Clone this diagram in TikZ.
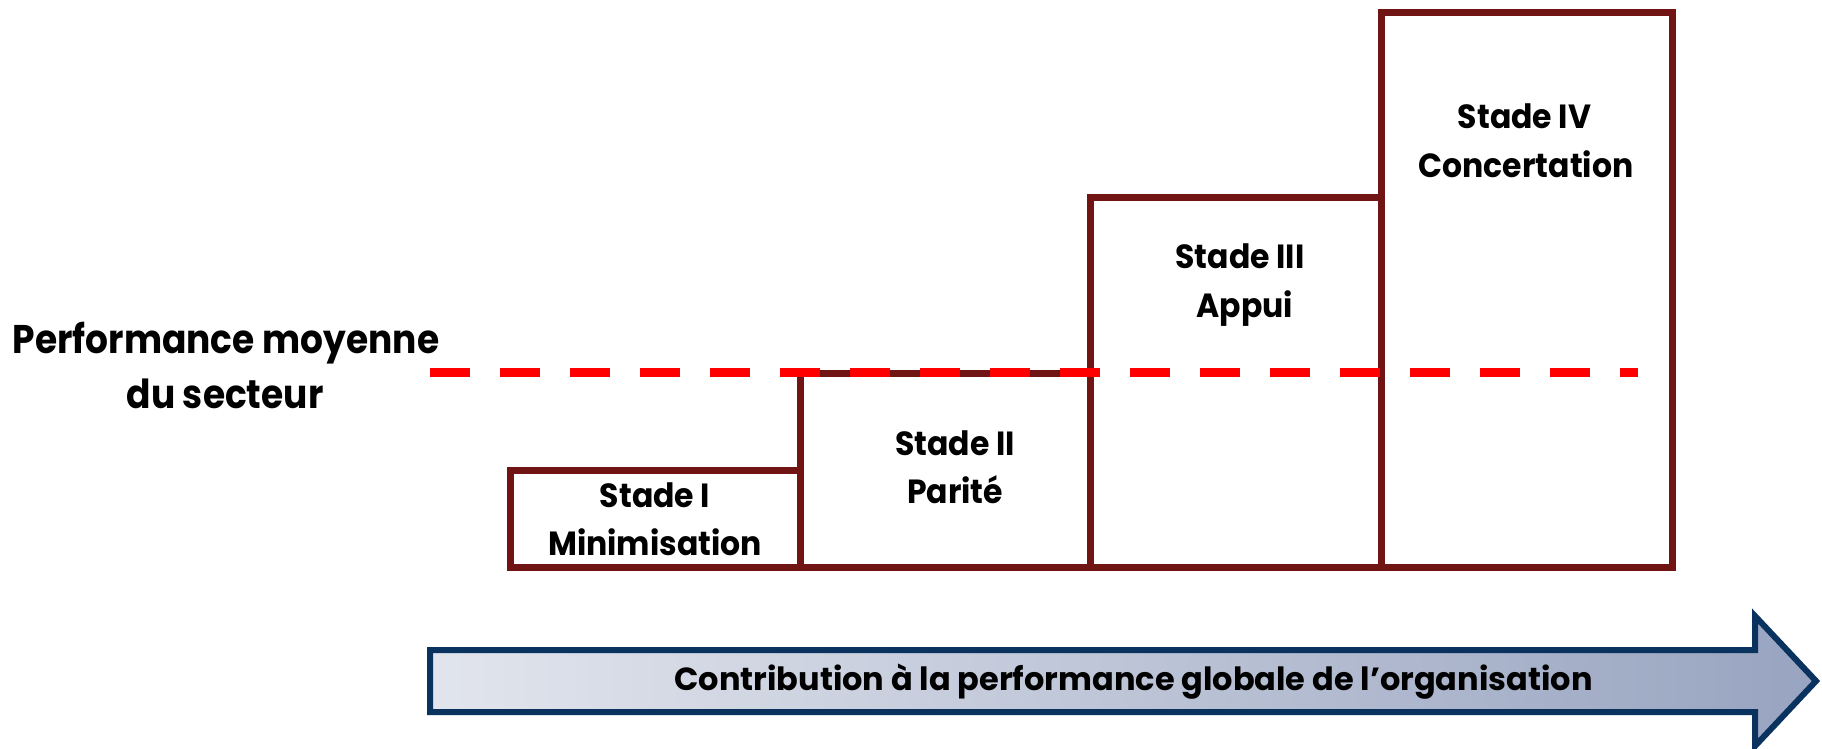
\documentclass[tikz,border=0pt]{standalone}
\usepackage{fontspec}
\setmainfont{Poppins}
\newfontfamily\stagefont{Poppins}[FakeStretch=0.94]
\newfontfamily\avgfont{Poppins}[FakeStretch=0.9]
\definecolor{stageline}{RGB}{112,20,20}
\definecolor{avgred}{RGB}{255,0,0}
\definecolor{arrowline}{RGB}{10,50,95}
\definecolor{arrowlight}{RGB}{226,229,237}
\definecolor{arrowdark}{RGB}{152,164,192}
\tikzset{
  stagebox/.style={draw=stageline, line width=7pt, inner sep=0pt, rectangle},
  stagetext/.style={font=\stagefont\fontsize{33.5}{40}\selectfont\bfseries, anchor=base, inner sep=0pt},
  avgtext/.style={font=\avgfont\fontsize{40}{48}\selectfont\bfseries, anchor=base, inner sep=0pt},
  arrowtext/.style={font=\fontsize{32}{38}\selectfont\bfseries, anchor=base, inner sep=0pt},
  avgline/.style={draw=avgred, line width=9pt, dash pattern=on 40pt off 30pt},
  bigarrow/.style={draw=arrowline, line width=6pt, left color=arrowlight, right color=arrowdark}
}
\begin{document}
\begin{tikzpicture}[x=1pt,y=-1pt]
\useasboundingbox (0,0) rectangle (1822,748);

% the four stages, as rising steps
\node[stagebox, minimum width=290pt, minimum height=97pt]  (s1) at (655,518.5) {};
\node[stagebox, minimum width=290pt, minimum height=194pt] (s2) at (945,470) {};
\node[stagebox, minimum width=291pt, minimum height=370pt] (s3) at (1235.5,382) {};
\node[stagebox, minimum width=291pt, minimum height=555pt] (s4) at (1526.5,289.5) {};

\node[stagetext] (s1a) at (655,507) {Stade I};
\node[stagetext] (s1b) at (655,555) {Minimisation};
\node[stagetext] (s2a) at (955,455) {Stade II};
\node[stagetext] (s2b) at (955,503) {Parité};
\node[stagetext] (s3a) at (1240,268) {Stade III};
\node[stagetext] (s3b) at (1245,317) {Appui};
\node[stagetext] (s4a) at (1524.5,128) {Stade IV};
\node[stagetext] (s4b) at (1526,177) {Concertation};

% sector average
\node[avgtext] (avg1) at (226,353) {Performance moyenne};
\node[avgtext] (avg2) at (225,408) {du secteur};
\coordinate (avgL) at (430,372);
\coordinate (avgR) at (1638,372);
\draw[avgline] (avgL) -- (avgR);

% contribution arrow
\path[bigarrow] (430,650) -- (1755,650) -- (1755,616) -- (1816,681)
  -- (1755,746) -- (1755,712) -- (430,712) -- cycle;
\node[arrowtext] (contrib) at (1133.5,690) {Contribution à la performance globale de l’organisation};
\end{tikzpicture}
\end{document}
